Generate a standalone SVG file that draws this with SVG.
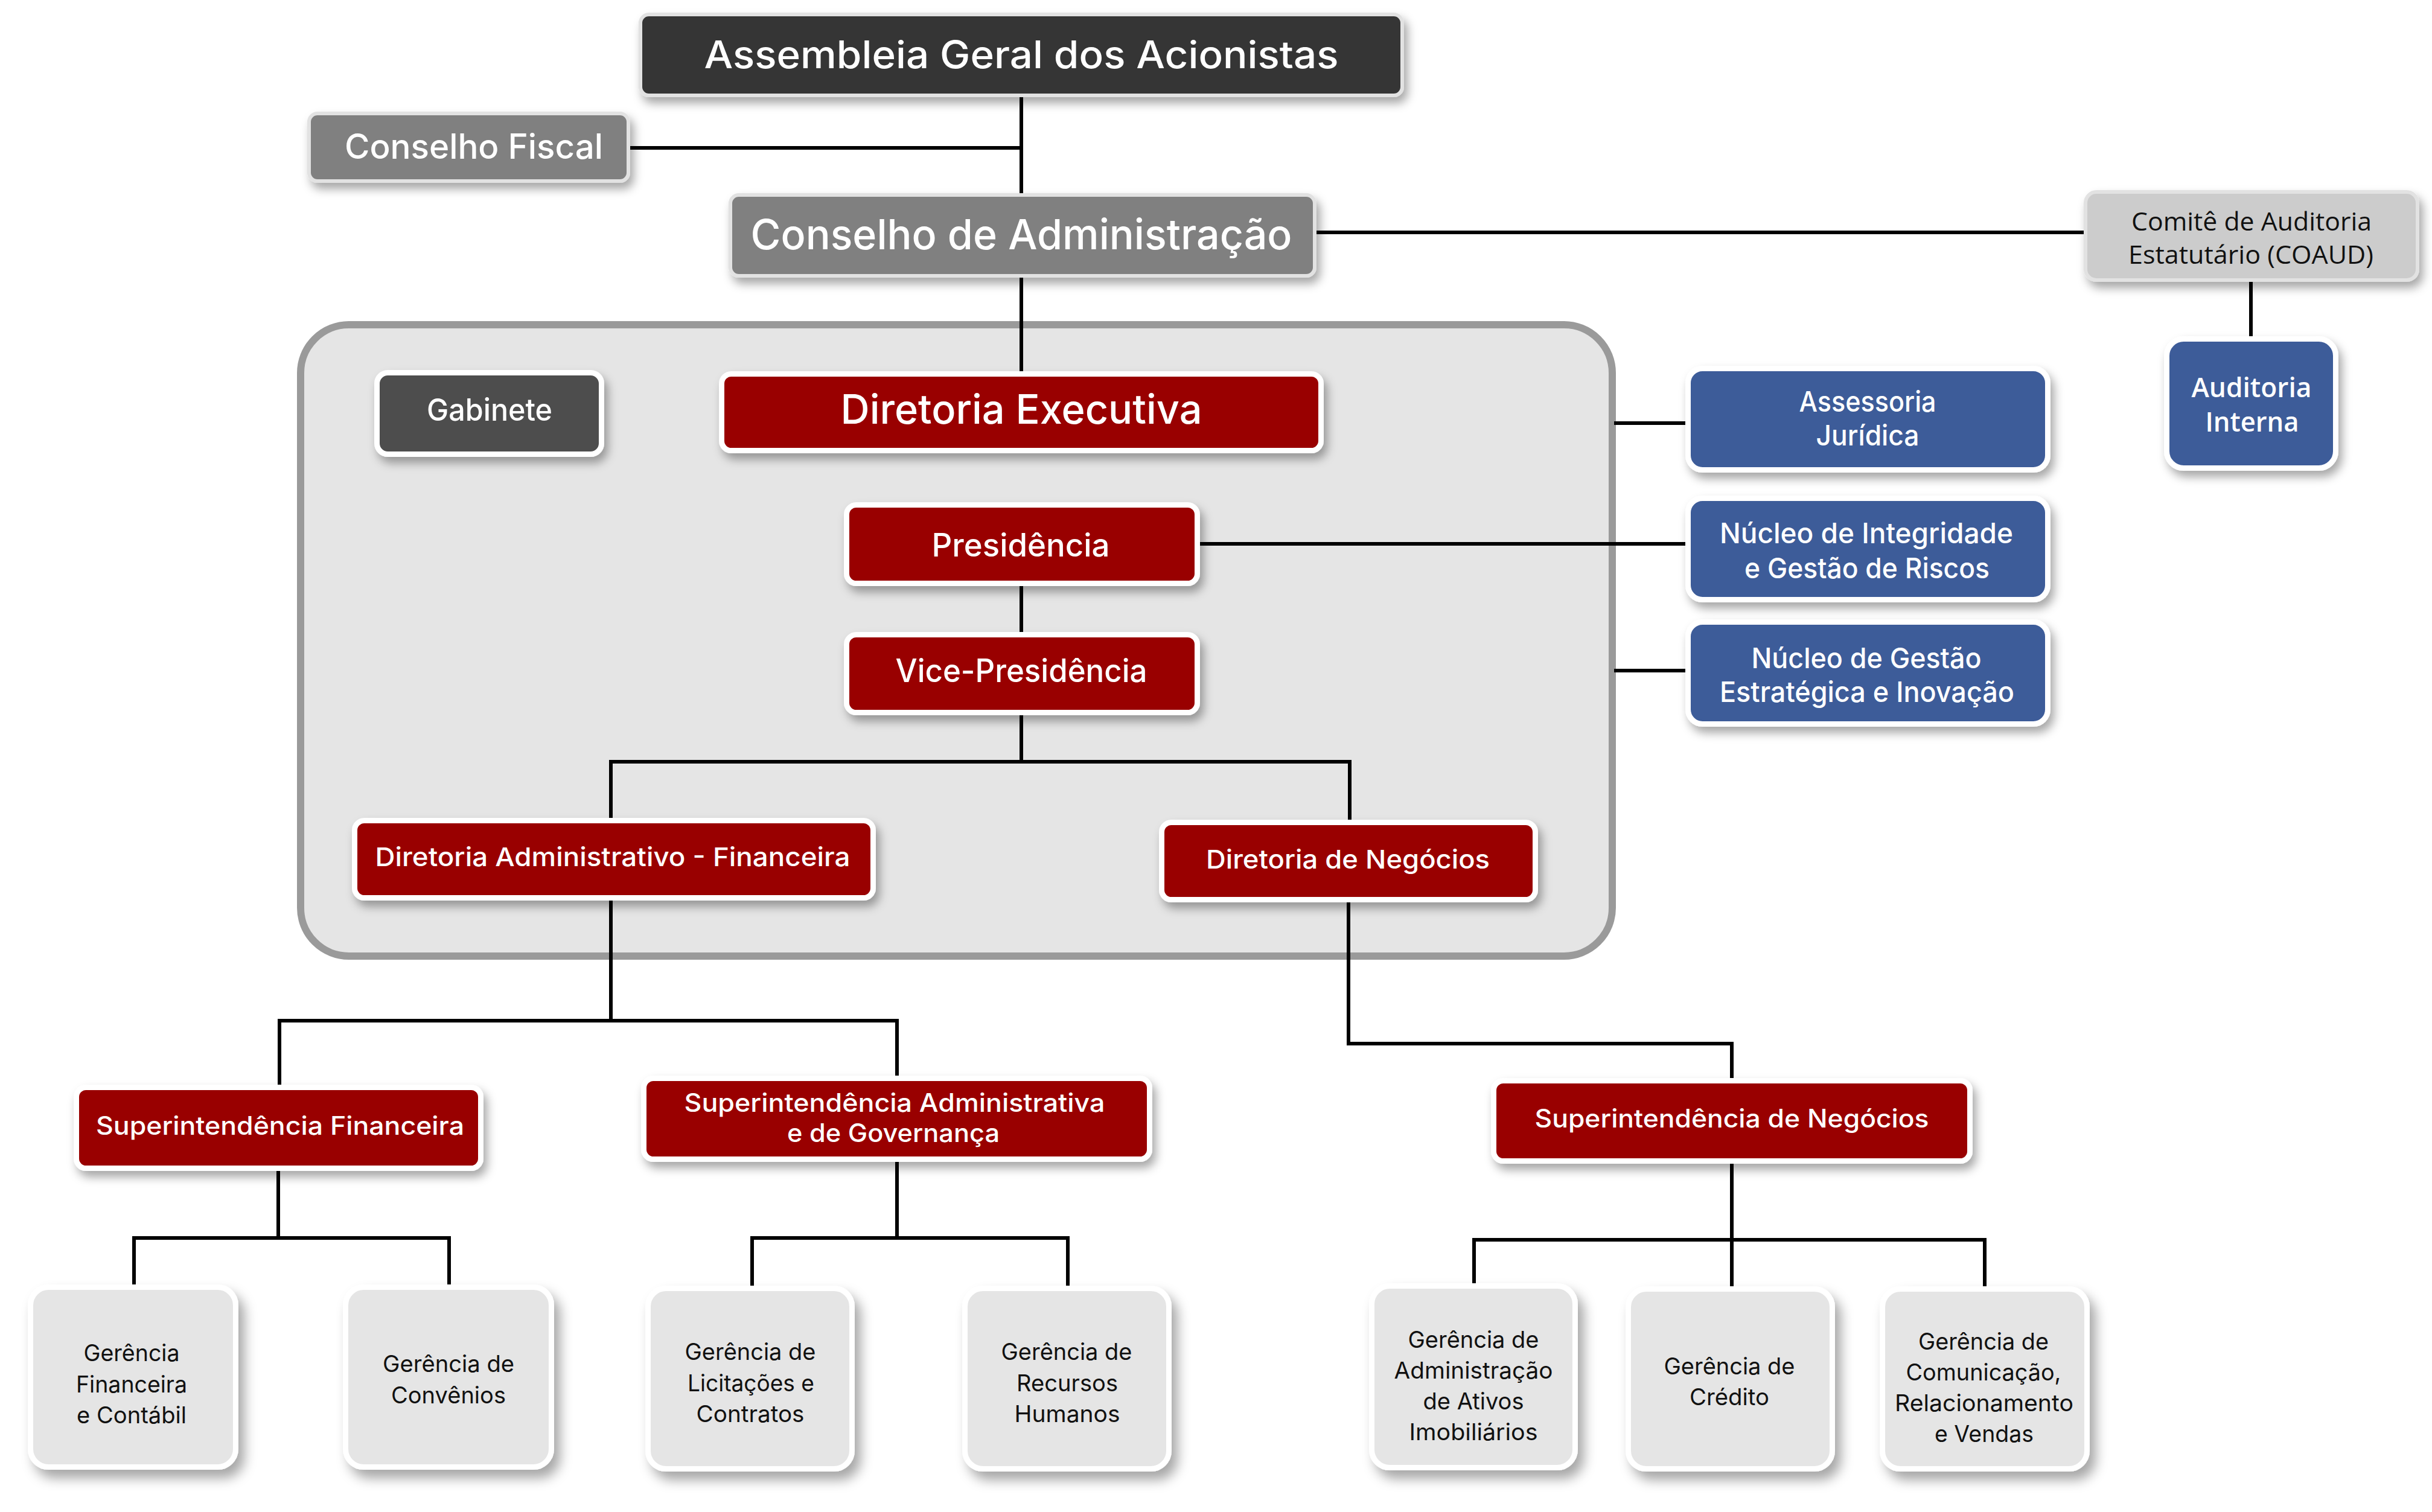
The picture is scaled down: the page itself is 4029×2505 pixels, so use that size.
<svg xmlns="http://www.w3.org/2000/svg" width="4029" height="2505" viewBox="0 0 4029 2505">
<defs>
<filter id="sh" x="-10%" y="-20%" width="125%" height="150%">
<feDropShadow dx="6" dy="10" stdDeviation="8" flood-color="#000" flood-opacity="0.35"/>
</filter>
<filter id="sh2" x="-10%" y="-10%" width="130%" height="130%">
<feDropShadow dx="10" dy="14" stdDeviation="10" flood-color="#000" flood-opacity="0.35"/>
</filter>
</defs>
<style>
.top{stroke:#e2e2e2;stroke-width:6;filter:url(#sh)}
.wb{stroke:#ffffff;stroke-width:9;filter:url(#sh)}
.ger{fill:#e5e5e5;stroke:#ffffff;stroke-width:9;filter:url(#sh2)}
.red{fill:#990000}
.blue{fill:#3e5b99}
.tw{fill:#ffffff;font-family:Inter,"Noto Sans",sans-serif;font-weight:500;text-anchor:middle}
.tb{fill:#111111;font-family:Inter,"Noto Sans",sans-serif;font-weight:400;text-anchor:middle;font-size:38.5px}
.os{font-family:"Open Sans","Noto Sans",sans-serif}
.c{fill:none;stroke:#000;stroke-width:6;stroke-linecap:square}
</style>

<rect id="container" x="498" y="538" width="2173" height="1046" rx="80" fill="#e5e5e5" stroke="#9a9a9a" stroke-width="12"/>

<g id="connectors" class="c">
<path d="M1692 161V322"/>
<path d="M1044 245H1692"/>
<path d="M2180 385H3452"/>
<path d="M3729 467V557"/>
<path d="M1692 460V615"/>
<path d="M1692 971V1047"/>
<path d="M1988 901H2792"/>
<path d="M2677 701H2792"/>
<path d="M2677 1111H2792"/>
<path d="M1692 1185V1262M1012 1355V1262H2236V1358"/>
<path d="M1012 1492V1691M463 1797V1691H1486V1782"/>
<path d="M2234 1495V1729H2869V1786"/>
<path d="M461 1940V2051M222 2128V2051H744V2128"/>
<path d="M1486 1925V2051M1246 2130V2051H1769V2130"/>
<path d="M2869 1928V2054M2442 2130V2054H3288V2134M2869 2054V2134"/>
</g>

<g id="assembleia">
<rect class="top" x="1061" y="24" width="1262" height="134" rx="14" fill="#353535"/>
<text class="tw" x="1692" y="113" font-size="63" textLength="1051" lengthAdjust="spacingAndGlyphs">Assembleia Geral dos Acionistas</text>
</g>
<g id="conselho-fiscal">
<rect class="top" x="512" y="188" width="529" height="112" rx="14" fill="#808080"/>
<text class="tw" x="785" y="263" font-size="57" textLength="428" lengthAdjust="spacingAndGlyphs">Conselho Fiscal</text>
</g>
<g id="conselho-adm">
<rect class="top" x="1210" y="323" width="968" height="134" rx="14" fill="#808080"/>
<text class="tw" x="1692" y="413" font-size="69" textLength="897" lengthAdjust="spacingAndGlyphs">Conselho de Administração</text>
</g>
<g id="coaud">
<rect class="top" x="3455" y="318" width="550" height="146" rx="18" fill="#cccccc"/>
<text class="tb os" x="3730" y="382" font-size="42" style="font-size:42px" textLength="398" lengthAdjust="spacingAndGlyphs">Comitê de Auditoria</text>
<text class="tb os" x="3729" y="437" style="font-size:42px" textLength="406" lengthAdjust="spacingAndGlyphs">Estatutário (COAUD)</text>
</g>
<g id="auditoria-interna">
<rect class="wb blue" x="3589.5" y="561.5" width="280" height="214" rx="28"/>
<text class="tw os" x="3730" y="658" font-size="45" style="font-weight:600" textLength="199" lengthAdjust="spacingAndGlyphs">Auditoria</text>
<text class="tw os" x="3731" y="715" font-size="45" style="font-weight:600" textLength="155" lengthAdjust="spacingAndGlyphs">Interna</text>
</g>

<g id="gabinete">
<rect class="wb" x="624.5" y="617.5" width="372" height="135" rx="18" fill="#4d4d4d"/>
<text class="tw" x="811" y="697" font-size="51" textLength="208" lengthAdjust="spacingAndGlyphs">Gabinete</text>
</g>
<g id="diretoria-executiva">
<rect class="wb red" x="1195.5" y="619.5" width="993" height="127" rx="16"/>
<text class="tw" x="1692" y="702" font-size="67" textLength="599" lengthAdjust="spacingAndGlyphs">Diretoria Executiva</text>
</g>
<g id="presidencia">
<rect class="wb red" x="1402.5" y="836.5" width="581" height="130" rx="16"/>
<text class="tw" x="1691" y="922" font-size="53" textLength="295" lengthAdjust="spacingAndGlyphs">Presidência</text>
</g>
<g id="vice-presidencia">
<rect class="wb red" x="1402.5" y="1051.5" width="581" height="129" rx="16"/>
<text class="tw" x="1692" y="1130" font-size="53" textLength="417" lengthAdjust="spacingAndGlyphs">Vice-Presidência</text>
</g>
<g id="dir-adm-fin">
<rect class="wb red" x="587.5" y="1359.5" width="859" height="128" rx="16"/>
<text class="tw" x="1015" y="1435" font-size="43" textLength="787" lengthAdjust="spacingAndGlyphs">Diretoria Administrativo - Financeira</text>
</g>
<g id="dir-negocios">
<rect class="wb red" x="1924.5" y="1362.5" width="619" height="128" rx="16"/>
<text class="tw" x="2233" y="1439" font-size="43" textLength="470" lengthAdjust="spacingAndGlyphs">Diretoria de Negócios</text>
</g>

<g id="assessoria-juridica">
<rect class="wb blue" x="2796.5" y="610.5" width="596" height="168" rx="24"/>
<text class="tw" x="3094" y="682" font-size="47" textLength="227" lengthAdjust="spacingAndGlyphs">Assessoria</text>
<text class="tw" x="3094" y="738" font-size="47" textLength="171" lengthAdjust="spacingAndGlyphs">Jurídica</text>
</g>
<g id="nucleo-integridade">
<rect class="wb blue" x="2796.5" y="825.5" width="596" height="168" rx="24"/>
<text class="tw" x="3092" y="900" font-size="47" textLength="486" lengthAdjust="spacingAndGlyphs">Núcleo de Integridade</text>
<text class="tw" x="3093" y="958" font-size="47" textLength="406" lengthAdjust="spacingAndGlyphs">e Gestão de Riscos</text>
</g>
<g id="nucleo-gestao">
<rect class="wb blue" x="2796.5" y="1030.5" width="596" height="169" rx="24"/>
<text class="tw" x="3092" y="1107" font-size="47" textLength="381" lengthAdjust="spacingAndGlyphs">Núcleo de Gestão</text>
<text class="tw" x="3093" y="1163" font-size="47" textLength="488" lengthAdjust="spacingAndGlyphs">Estratégica e Inovação</text>
</g>

<g id="sup-financeira">
<rect class="wb red" x="126.5" y="1801.5" width="670" height="134" rx="16"/>
<text class="tw" x="464" y="1880" font-size="42" textLength="610" lengthAdjust="spacingAndGlyphs">Superintendência Financeira</text>
</g>
<g id="sup-adm-gov">
<rect class="wb red" x="1066.5" y="1786.5" width="838" height="134" rx="16"/>
<text class="tw" x="1482" y="1842" font-size="42" textLength="697" lengthAdjust="spacingAndGlyphs">Superintendência Administrativa</text>
<text class="tw" x="1480" y="1892" font-size="42" textLength="352" lengthAdjust="spacingAndGlyphs">e de Governança</text>
</g>
<g id="sup-negocios">
<rect class="wb red" x="2474.5" y="1790.5" width="789" height="133" rx="16"/>
<text class="tw" x="2869" y="1868" font-size="42" textLength="653" lengthAdjust="spacingAndGlyphs">Superintendência de Negócios</text>
</g>

<g id="ger-financeira">
<rect class="ger" x="50.5" y="2132.5" width="340" height="298" rx="30"/>
<text class="tb" x="218" y="2255" textLength="159" lengthAdjust="spacingAndGlyphs">Gerência</text>
<text class="tb" x="218" y="2307" textLength="184" lengthAdjust="spacingAndGlyphs">Financeira</text>
<text class="tb" x="218" y="2358" textLength="182" lengthAdjust="spacingAndGlyphs">e Contábil</text>
</g>
<g id="ger-convenios">
<rect class="ger" x="572.5" y="2132.5" width="341" height="298" rx="30"/>
<text class="tb" x="743" y="2273" textLength="218" lengthAdjust="spacingAndGlyphs">Gerência de</text>
<text class="tb" x="743" y="2325" textLength="190" lengthAdjust="spacingAndGlyphs">Convênios</text>
</g>
<g id="ger-licitacoes">
<rect class="ger" x="1073.5" y="2134.5" width="338" height="299" rx="30"/>
<text class="tb" x="1243" y="2253" textLength="217" lengthAdjust="spacingAndGlyphs">Gerência de</text>
<text class="tb" x="1244" y="2305" textLength="210" lengthAdjust="spacingAndGlyphs">Licitações e</text>
<text class="tb" x="1243" y="2356" textLength="179" lengthAdjust="spacingAndGlyphs">Contratos</text>
</g>
<g id="ger-rh">
<rect class="ger" x="1598.5" y="2134.5" width="338" height="299" rx="30"/>
<text class="tb" x="1767" y="2253" textLength="217" lengthAdjust="spacingAndGlyphs">Gerência de</text>
<text class="tb" x="1768" y="2305" textLength="168" lengthAdjust="spacingAndGlyphs">Recursos</text>
<text class="tb" x="1768" y="2356" textLength="175" lengthAdjust="spacingAndGlyphs">Humanos</text>
</g>
<g id="ger-ativos">
<rect class="ger" x="2272.5" y="2130.5" width="337" height="301" rx="30"/>
<text class="tb" x="2441" y="2233" textLength="217" lengthAdjust="spacingAndGlyphs">Gerência de</text>
<text class="tb" x="2441" y="2284" textLength="263" lengthAdjust="spacingAndGlyphs">Administração</text>
<text class="tb" x="2441" y="2335" textLength="167" lengthAdjust="spacingAndGlyphs">de Ativos</text>
<text class="tb" x="2441" y="2386" textLength="213" lengthAdjust="spacingAndGlyphs">Imobiliários</text>
</g>
<g id="ger-credito">
<rect class="ger" x="2697.5" y="2135.5" width="338" height="298" rx="30"/>
<text class="tb" x="2865" y="2277" textLength="217" lengthAdjust="spacingAndGlyphs">Gerência de</text>
<text class="tb" x="2865" y="2328" textLength="132" lengthAdjust="spacingAndGlyphs">Crédito</text>
</g>
<g id="ger-comunicacao">
<rect class="ger" x="3118.5" y="2135.5" width="339" height="298" rx="30"/>
<text class="tb" x="3286" y="2236" textLength="216" lengthAdjust="spacingAndGlyphs">Gerência de</text>
<text class="tb" x="3286" y="2287" textLength="257" lengthAdjust="spacingAndGlyphs">Comunicação,</text>
<text class="tb" x="3287" y="2338" textLength="296" lengthAdjust="spacingAndGlyphs">Relacionamento</text>
<text class="tb" x="3287" y="2389" textLength="164" lengthAdjust="spacingAndGlyphs">e Vendas</text>
</g>
</svg>
